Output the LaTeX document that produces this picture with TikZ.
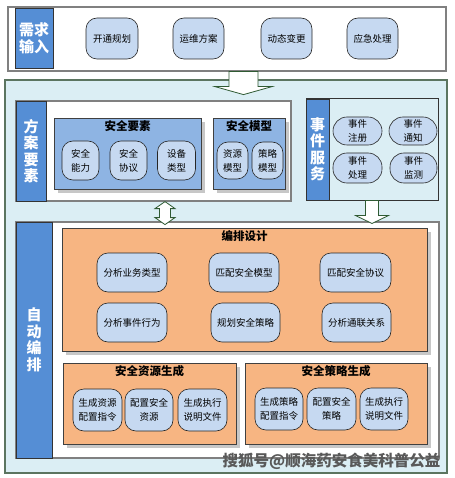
\documentclass[tikz,border=0pt]{standalone}
\usepackage{fontspec}
\setmainfont{Noto Sans CJK SC}
\usetikzlibrary{shadows}
\definecolor{labblue}{HTML}{558ED5}
\definecolor{subblue}{HTML}{C6D9F1}
\definecolor{midblue}{HTML}{8EB4E3}
\definecolor{paleblue}{HTML}{DBEEF4}
\definecolor{orng}{HTML}{F7B582}
\definecolor{frame}{HTML}{5B7560}
\definecolor{arrowline}{HTML}{2F5A33}
\begin{document}
\begin{tikzpicture}[x=1pt,y=-1pt,
  every node/.style={inner sep=1pt,align=center},
  lab/.style={draw=black!80,fill=labblue,text=white,line width=0.8pt,font=\fontsize{15}{16.5}\selectfont\bfseries},
  sub/.style={draw=black!85,fill=subblue,rounded corners=11pt,line width=0.6pt,font=\fontsize{9.5}{14}\selectfont},
  pill/.style={sub,rounded corners=14pt},
  panel/.style={draw=black!50,fill=white,line width=1.2pt},
  group/.style={draw=black!75,line width=0.8pt,drop shadow={shadow xshift=4pt,shadow yshift=-4pt,fill=black!22,opacity=1}},
  title/.style={anchor=north,inner sep=3pt,font=\fontsize{11.5}{12}\selectfont\bfseries},
  barrow/.style={draw=arrowline,fill=white,line width=0.8pt,line join=miter}]
\useasboundingbox (0,0) rectangle (454,478);
% outer container
\node[draw=frame,fill=paleblue,line width=1.2pt,minimum width=442pt,minimum height=393pt] (main) at (226,276.5) {};
% input
\node[panel,minimum width=438pt,minimum height=64pt] (inbox) at (227,39) {};
\node[lab,minimum width=38pt,minimum height=60pt] (inlab) at (34,38) {需求\\输入};
\node[sub,minimum width=52pt,minimum height=41pt] (kt) at (112,38.5) {开通规划};
\node[sub,minimum width=51pt,minimum height=41pt] (yw) at (198.5,38.5) {运维方案};
\node[sub,minimum width=51pt,minimum height=41pt] (dt) at (286.5,38.5) {动态变更};
\node[sub,minimum width=51pt,minimum height=41pt] (yj) at (372.5,38.5) {应急处理};
% scheme elements
\node[panel,minimum width=275pt,minimum height=100pt] (fabox) at (153.5,151) {};
\node[lab,minimum width=30pt,minimum height=100pt] (falab) at (31,151) {方\\案\\要\\素};
\node[group,fill=midblue,minimum width=147pt,minimum height=71pt,label={[title]north:安全要素}] (aqys) at (127.5,153.5) {};
\node[sub,minimum width=37pt,minimum height=39pt] (nl) at (80.5,160.5) {安全\\能力};
\node[sub,minimum width=37pt,minimum height=39pt] (xy) at (128.5,160.5) {安全\\协议};
\node[sub,minimum width=38pt,minimum height=39pt] (sb) at (176.5,160.5) {设备\\类型};
\node[group,fill=midblue,minimum width=72pt,minimum height=71pt,label={[title]north:安全模型}] (aqmx) at (249,153.5) {};
\node[sub,minimum width=31pt,minimum height=37pt] (zymx) at (232.5,160.5) {资源\\模型};
\node[sub,minimum width=31pt,minimum height=37pt] (clmx) at (267.5,160.5) {策略\\模型};
% event service
\node[draw=black!80,fill=paleblue,line width=1pt,minimum width=132pt,minimum height=101pt] (sjbox) at (372,149.5) {};
\node[lab,minimum width=23pt,minimum height=101pt] (sjlab) at (317.5,149.5) {事\\件\\服\\务};
\node[pill,minimum width=49pt,minimum height=28pt] (zc) at (357.5,131) {事件\\注册};
\node[pill,minimum width=48pt,minimum height=28pt] (tz) at (413,131) {事件\\通知};
\node[pill,minimum width=49pt,minimum height=30pt] (cl) at (357.5,168) {事件\\处理};
\node[pill,minimum width=47pt,minimum height=30pt] (jc) at (413.5,168) {事件\\监测};
% orchestration
\node[panel,minimum width=423pt,minimum height=236pt] (bpbox) at (227.5,340) {};
\node[lab,minimum width=36pt,minimum height=236pt] (bplab) at (34,340) {自\\动\\编\\排};
\node[group,fill=orng,minimum width=365pt,minimum height=123pt,label={[title]north:编排设计}] (bpsj) at (244.5,289.5) {};
\node[sub,minimum width=70pt,minimum height=39pt] (ywlx) at (132,272.5) {分析业务类型};
\node[sub,minimum width=70pt,minimum height=39pt] (ppmx) at (244,272.5) {匹配安全模型};
\node[sub,minimum width=71pt,minimum height=39pt] (ppxy) at (355.5,272.5) {匹配安全协议};
\node[sub,minimum width=70pt,minimum height=39pt] (sjxw) at (132,322.5) {分析事件行为};
\node[sub,minimum width=69pt,minimum height=39pt] (ghcl) at (245.5,322.5) {规划安全策略};
\node[sub,minimum width=69pt,minimum height=39pt] (tlgx) at (356.5,322.5) {分析通联关系};
\node[group,fill=orng,minimum width=173pt,minimum height=81pt,label={[title]north:安全资源生成}] (zysc) at (149.5,403.5) {};
\node[sub,minimum width=49pt,minimum height=42pt] (zy1) at (97.5,410) {生成资源\\配置指令};
\node[sub,minimum width=48pt,minimum height=42pt] (zy2) at (149,410) {配置安全\\资源};
\node[sub,minimum width=49pt,minimum height=42pt] (zy3) at (202.5,410) {生成执行\\说明文件};
\node[group,fill=orng,minimum width=182pt,minimum height=81pt,label={[title]north:安全策略生成}] (clsc) at (336,403.5) {};
\node[sub,minimum width=48pt,minimum height=42pt] (cl1) at (279,409) {生成策略\\配置指令};
\node[sub,minimum width=49pt,minimum height=42pt] (cl2) at (331.5,409) {配置安全\\策略};
\node[sub,minimum width=48pt,minimum height=42pt] (cl3) at (384,409) {生成执行\\说明文件};
% block arrows
\coordinate (a1) at ([xshift=16.5pt]inbox.south);
\coordinate (a2) at ([xshift=11.5pt]fabox.south);
\coordinate (a3) at (sjbox.south);
\draw[barrow] (a1) ++(-14.5,0) -- ++(0,15) -- ++(-14,0) -- ++(28.5,8) -- ++(28.5,-8) -- ++(-14,0) -- ++(0,-15) -- cycle;
\draw[barrow] (a2) -- ++(10,7) -- ++(-4.5,0) -- ++(0,9) -- ++(4.5,0) -- ++(-10,7) -- ++(-10,-7) -- ++(4.5,0) -- ++(0,-9) -- ++(-4.5,0) -- cycle;
\draw[barrow] (a3) ++(-6.5,0) -- ++(0,15) -- ++(-10,0) -- ++(16.5,8) -- ++(16.5,-8) -- ++(-10,0) -- ++(0,-15) -- cycle;
% watermark
\node[text=black!65,font=\fontsize{15.5}{16}\selectfont\bfseries] (wm) at (331.5,461) {搜狐号@顺海药安食美科普公益};
\end{tikzpicture}
\end{document}
